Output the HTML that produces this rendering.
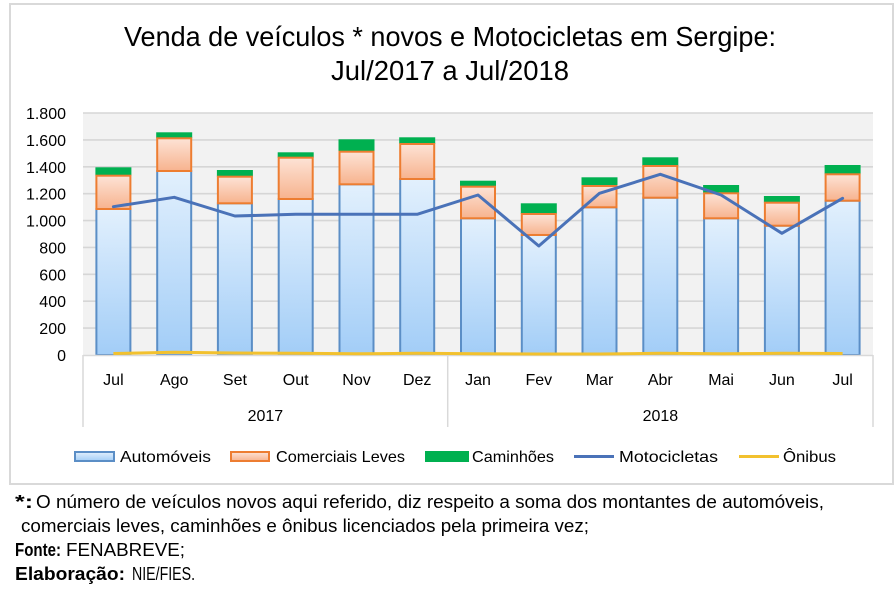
<!DOCTYPE html>
<html>
<head>
<meta charset="utf-8">
<style>
  html,body{margin:0;padding:0;background:#fff;}
  svg{display:block;}
  text{font-family:"Liberation Sans",sans-serif;fill:#000;}
</style>
</head>
<body>
<svg width="896" height="601" viewBox="0 0 896 601" xmlns="http://www.w3.org/2000/svg">
  <defs>
    <linearGradient id="ga" x1="0" y1="0" x2="0" y2="1">
      <stop offset="0" stop-color="#e2f0fd"/>
      <stop offset="1" stop-color="#a2cdf7"/>
    </linearGradient>
    <linearGradient id="gc" x1="0" y1="0" x2="0" y2="1">
      <stop offset="0" stop-color="#fde3d6"/>
      <stop offset="1" stop-color="#f7b38e"/>
    </linearGradient>
  </defs>
  <rect x="0" y="0" width="896" height="601" fill="#fff"/>
  <!-- chart frame -->
  <rect x="10" y="4" width="883" height="480" fill="#fff" stroke="#d9d9d9" stroke-width="2"/>

  <!-- title -->
  <text x="124" y="46" font-size="28" textLength="652" lengthAdjust="spacingAndGlyphs">Venda de veículos * novos e Motocicletas em Sergipe:</text>
  <text x="331" y="80" font-size="28" textLength="238" lengthAdjust="spacingAndGlyphs">Jul/2017 a Jul/2018</text>

  <!-- plot area -->
  <rect x="83" y="113" width="790" height="242" fill="#f2f2f2"/>
  <g stroke="#d6d6d6" stroke-width="1.6">
    <line x1="83" y1="113" x2="873" y2="113"/>
    <line x1="83" y1="139.9" x2="873" y2="139.9"/>
    <line x1="83" y1="166.8" x2="873" y2="166.8"/>
    <line x1="83" y1="193.7" x2="873" y2="193.7"/>
    <line x1="83" y1="220.6" x2="873" y2="220.6"/>
    <line x1="83" y1="247.4" x2="873" y2="247.4"/>
    <line x1="83" y1="274.3" x2="873" y2="274.3"/>
    <line x1="83" y1="301.2" x2="873" y2="301.2"/>
    <line x1="83" y1="328.1" x2="873" y2="328.1"/>
  </g>

  <!-- y labels -->
  <g font-size="16" text-anchor="end">
    <text x="66" y="119">1.800</text>
    <text x="66" y="145.9">1.600</text>
    <text x="66" y="172.8">1.400</text>
    <text x="66" y="199.7">1.200</text>
    <text x="66" y="226.6">1.000</text>
    <text x="66" y="253.4">800</text>
    <text x="66" y="280.3">600</text>
    <text x="66" y="307.2">400</text>
    <text x="66" y="334.1">200</text>
    <text x="66" y="361">0</text>
  </g>

  <!-- bars: automóveis -->
  <g fill="url(#ga)" stroke="#5b8ec6" stroke-width="2">
    <rect x="96.4" y="209" width="34" height="146"/>
    <rect x="157.2" y="171" width="34" height="184"/>
    <rect x="217.9" y="203.3" width="34" height="151.7"/>
    <rect x="278.7" y="199" width="34" height="156"/>
    <rect x="339.5" y="184.3" width="34" height="170.7"/>
    <rect x="400.2" y="179" width="34" height="176"/>
    <rect x="461.0" y="218.3" width="34" height="136.7"/>
    <rect x="521.8" y="235" width="34" height="120"/>
    <rect x="582.5" y="207.3" width="34" height="147.7"/>
    <rect x="643.3" y="197.7" width="34" height="157.3"/>
    <rect x="704.1" y="218.3" width="34" height="136.7"/>
    <rect x="764.9" y="225.7" width="34" height="129.3"/>
    <rect x="825.6" y="200.7" width="34" height="154.3"/>
  </g>
  <!-- caminhões -->
  <g fill="#00b050">
    <rect x="95.4" y="167.3" width="36" height="8.4"/>
    <rect x="156.2" y="132.3" width="36" height="6"/>
    <rect x="216.9" y="170" width="36" height="6.7"/>
    <rect x="277.7" y="152.3" width="36" height="5.4"/>
    <rect x="338.5" y="139.3" width="36" height="12.4"/>
    <rect x="399.2" y="137.3" width="36" height="6.7"/>
    <rect x="460.0" y="180.7" width="36" height="6"/>
    <rect x="520.8" y="203.3" width="36" height="10.7"/>
    <rect x="581.5" y="177.3" width="36" height="8.7"/>
    <rect x="642.3" y="157.3" width="36" height="8.7"/>
    <rect x="703.1" y="185" width="36" height="8.3"/>
    <rect x="763.9" y="196" width="36" height="6.7"/>
    <rect x="824.6" y="165" width="36" height="9.3"/>
  </g>
  <!-- comerciais leves -->
  <g fill="url(#gc)" stroke="#ed7d31" stroke-width="2">
    <rect x="96.4" y="175.7" width="34" height="33.3"/>
    <rect x="157.2" y="138.3" width="34" height="32.7"/>
    <rect x="217.9" y="176.7" width="34" height="26.6"/>
    <rect x="278.7" y="157.7" width="34" height="41.3"/>
    <rect x="339.5" y="151.7" width="34" height="32.6"/>
    <rect x="400.2" y="144" width="34" height="35"/>
    <rect x="461.0" y="186.7" width="34" height="31.6"/>
    <rect x="521.8" y="214" width="34" height="21"/>
    <rect x="582.5" y="186" width="34" height="21.3"/>
    <rect x="643.3" y="166" width="34" height="31.7"/>
    <rect x="704.1" y="193.3" width="34" height="25"/>
    <rect x="764.9" y="202.7" width="34" height="23"/>
    <rect x="825.6" y="174.3" width="34" height="26.4"/>
  </g>

  <!-- axis box -->
  <g stroke="#d9d9d9" stroke-width="1.5">
    <line x1="83" y1="355.5" x2="873" y2="355.5"/>
    <line x1="83" y1="355" x2="83" y2="427"/>
    <line x1="447.7" y1="355" x2="447.7" y2="427"/>
    <line x1="873" y1="355" x2="873" y2="427"/>
  </g>

  <!-- ônibus line -->
  <polyline fill="none" stroke="#f2c12e" stroke-width="3" stroke-linejoin="round"
    points="113.4,353.5 174.2,352.3 234.9,353 295.7,353.3 356.5,353.8 417.2,353.3 478,353.8 538.8,354 599.5,354 660.3,353.3 721.1,353.8 781.9,353.3 842.6,353.5"/>
  <!-- motocicletas line -->
  <polyline fill="none" stroke="#4a72b8" stroke-width="3" stroke-linejoin="round" stroke-linecap="round"
    points="113.4,206.7 174.2,197.3 234.9,216 295.7,214.3 356.5,214.3 417.2,214.3 478,195 538.8,246 599.5,193.3 660.3,174.3 721.1,195 781.9,233.3 842.6,198.3"/>

  <!-- month labels -->
  <g font-size="16" text-anchor="middle">
    <text x="113.4" y="385">Jul</text>
    <text x="174.2" y="385">Ago</text>
    <text x="234.9" y="385">Set</text>
    <text x="295.7" y="385">Out</text>
    <text x="356.5" y="385">Nov</text>
    <text x="417.2" y="385">Dez</text>
    <text x="478" y="385">Jan</text>
    <text x="538.8" y="385">Fev</text>
    <text x="599.5" y="385">Mar</text>
    <text x="660.3" y="385">Abr</text>
    <text x="721.1" y="385">Mai</text>
    <text x="781.9" y="385">Jun</text>
    <text x="842.6" y="385">Jul</text>
    <text x="265.4" y="421">2017</text>
    <text x="660.4" y="421">2018</text>
  </g>

  <!-- legend -->
  <rect x="75" y="452" width="39" height="9" fill="url(#ga)" stroke="#5b8ec6" stroke-width="2"/>
  <text x="120" y="462" font-size="16" textLength="91" lengthAdjust="spacingAndGlyphs">Automóveis</text>
  <rect x="231" y="452" width="38" height="9" fill="url(#gc)" stroke="#ed7d31" stroke-width="2"/>
  <text x="276" y="462" font-size="16" textLength="129" lengthAdjust="spacingAndGlyphs">Comerciais Leves</text>
  <rect x="425" y="451" width="44" height="11" fill="#00b050"/>
  <text x="472" y="462" font-size="16" textLength="82" lengthAdjust="spacingAndGlyphs">Caminhões</text>
  <line x1="574" y1="456.5" x2="614" y2="456.5" stroke="#4a72b8" stroke-width="3"/>
  <text x="619" y="462" font-size="16" textLength="99" lengthAdjust="spacingAndGlyphs">Motocicletas</text>
  <line x1="739" y1="456.5" x2="779" y2="456.5" stroke="#f2c12e" stroke-width="3"/>
  <text x="783" y="462" font-size="16" textLength="53" lengthAdjust="spacingAndGlyphs">Ônibus</text>

  <!-- footer -->
  <g font-size="18">
    <text x="15" y="508" font-weight="bold" textLength="18" lengthAdjust="spacingAndGlyphs">*:</text>
    <text x="36" y="508" textLength="788" lengthAdjust="spacingAndGlyphs">O número de veículos novos aqui referido, diz respeito a soma dos montantes de automóveis,</text>
    <text x="21" y="532" textLength="568" lengthAdjust="spacingAndGlyphs">comerciais leves, caminhões e ônibus licenciados pela primeira vez;</text>
    <text x="15" y="556" font-weight="bold" textLength="46" lengthAdjust="spacingAndGlyphs">Fonte:</text>
    <text x="66" y="556" textLength="119" lengthAdjust="spacingAndGlyphs">FENABREVE;</text>
    <text x="15" y="580" font-weight="bold" textLength="110" lengthAdjust="spacingAndGlyphs">Elaboração:</text>
    <text x="132" y="580" textLength="63" lengthAdjust="spacingAndGlyphs">NIE/FIES.</text>
  </g>
</svg>
</body>
</html>
